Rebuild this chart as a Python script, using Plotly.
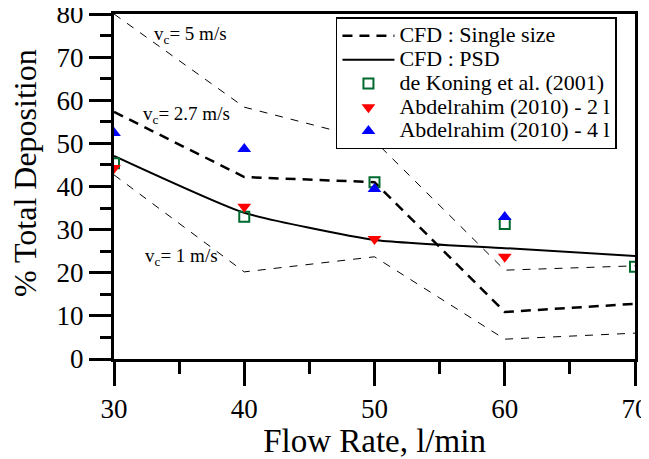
import plotly.graph_objects as go

flow = [30, 40, 50, 60, 70]
single_vc27 = [57.3, 42.2, 41.0, 10.9, 12.8]
single_vc5 = [80.0, 58.4, 50.6, 20.6, 21.6]
single_vc1 = [42.7, 20.2, 23.7, 4.6, 6.0]
psd = [47.1, 33.9, 27.6, 25.7, 23.9]

koning_x = [30, 40, 50, 60, 70]
koning_y = [45.4, 33.0, 41.0, 31.3, 21.4]
abd2_x = [30, 40, 50, 60]
abd2_y = [44.3, 35.3, 27.8, 23.7]
abd4_x = [30, 40, 50, 60]
abd4_y = [52.4, 48.7, 39.4, 32.9]

FONT = "Liberation Serif, Times New Roman, serif"


def leg(name):
    return '<span style="font-size:22px">' + name + "</span>"


fig = go.Figure()
fig.add_trace(go.Scatter(x=flow, y=single_vc5, mode="lines", showlegend=False,
                         line=dict(color="black", width=1, dash="8px,8px")))
fig.add_trace(go.Scatter(x=flow, y=single_vc1, mode="lines", showlegend=False,
                         line=dict(color="black", width=1, dash="8px,8px")))
fig.add_trace(go.Scatter(x=flow, y=single_vc27, mode="lines", name=leg("CFD : Single size"),
                         line=dict(color="black", width=2.5, dash="10px,7px")))
fig.add_trace(go.Scatter(x=flow, y=psd, mode="lines", name=leg("CFD : PSD"),
                         line=dict(color="black", width=2, shape="spline", smoothing=0.5)))
fig.add_trace(go.Scatter(x=koning_x, y=koning_y, mode="markers", name=leg("de Koning et al. (2001)"),
                         marker=dict(symbol="square-open", size=10, color="#006a2e",
                                     line=dict(width=2, color="#006a2e"))))
fig.add_trace(go.Scatter(x=abd2_x, y=abd2_y, mode="markers", name=leg("Abdelrahim (2010) - 2 l"),
                         marker=dict(symbol="triangle-down", size=12, color="#ff0000")))
fig.add_trace(go.Scatter(x=abd4_x, y=abd4_y, mode="markers", name=leg("Abdelrahim (2010) - 4 l"),
                         marker=dict(symbol="triangle-up", size=12, color="#0000ff")))

ann_font = dict(family=FONT, size=19, color="black")
for txt, xx, yy in [("v<sub>c</sub>= 5 m/s", 32.9, 75.2),
                    ("v<sub>c</sub>= 2.7 m/s", 32.1, 56.5),
                    ("v<sub>c</sub>= 1 m/s", 32.2, 23.6)]:
    fig.add_annotation(x=xx, y=yy, text=txt, showarrow=False, xanchor="left",
                       yanchor="middle", font=ann_font)

# y-axis title as a rotated annotation (further from the ticks than plotly's title allows)
fig.add_annotation(xref="paper", yref="paper", x=-0.172, y=0.54,
                   text="% Total Deposition", textangle=-90, showarrow=False,
                   xanchor="center", yanchor="middle",
                   font=dict(family=FONT, size=32, color="black"))

# The page body adds an 8px offset and the visible width ends at 641px,
# so the figure is sized and its margins shifted to keep the plot area in place.
fig.update_layout(
    width=633, height=451,
    margin=dict(l=106, r=6, t=6, b=100, autoexpand=False),
    paper_bgcolor="white", plot_bgcolor="white",
    font=dict(family=FONT, color="black", size=20),
    legend=dict(x=0.426, y=0.99, xanchor="left", yanchor="top",
                bordercolor="black", borderwidth=1.5, bgcolor="white",
                font=dict(family=FONT, size=16, color="black"),
                itemwidth=52, tracegroupgap=0),
    xaxis=dict(range=[30, 70], tickvals=[30, 40, 50, 60, 70], automargin=False,
               showgrid=False, zeroline=False, ticklabeloverflow="allow",
               showline=True, linecolor="black", linewidth=3, mirror=True,
               ticks="outside", ticklen=24, tickwidth=3, tickcolor="black",
               tickfont=dict(family=FONT, size=27, color="black"),
               minor=dict(dtick=5, ticks="outside", ticklen=12, tickwidth=3, tickcolor="black"),
               title=dict(text="Flow Rate, l/min", font=dict(family=FONT, size=33, color="black"),
                          standoff=14)),
    yaxis=dict(range=[0, 80], tickvals=[0, 10, 20, 30, 40, 50, 60, 70, 80], automargin=False,
               showgrid=False, zeroline=False, ticklabeloverflow="allow",
               showline=True, linecolor="black", linewidth=3, mirror=True,
               ticks="outside", ticklen=22, tickwidth=3, tickcolor="black",
               tickfont=dict(family=FONT, size=27, color="black"),
               minor=dict(dtick=5, ticks="outside", ticklen=11, tickwidth=3, tickcolor="black")),
)

fig.write_html("out.html")
